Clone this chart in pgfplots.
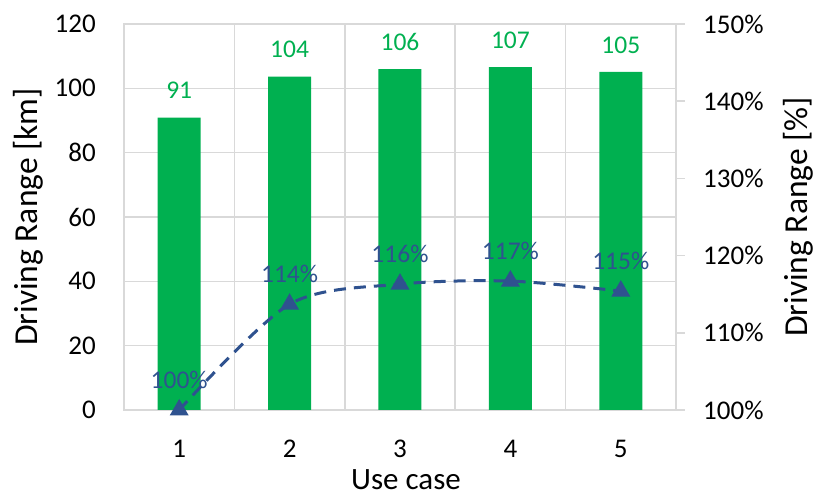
\documentclass[border=0pt]{standalone}
\usepackage{pgfplots}
\pgfplotsset{compat=1.18}
\usepackage{fontspec}
\setmainfont{Carlito}

\definecolor{bargreen}{RGB}{0,176,80}
\definecolor{lineblue}{RGB}{47,82,143}
\definecolor{gridgray}{RGB}{217,217,217}

\begin{document}
\begin{tikzpicture}
\pgfplotsset{
  common/.style={
    scale only axis, width=552pt, height=386pt,
    at={(0,0)}, anchor=south west,
    xmin=0.5, xmax=5.5,
    /pgf/number format/assume math mode=true,
    ticklabel style={font=\fontsize{27}{27}\selectfont, inner sep=0pt},
    label style={font=\fontsize{31}{31}\selectfont, inner sep=0pt},
    ylabel style={font=\fontsize{33.5}{33.5}\selectfont},
  }
}
% driving range per use case (bars, left axis)
\begin{axis}[common,
  ybar, bar width=43pt,
  ymin=0, ymax=120, ytick={0,20,...,120},
  xtick={1,...,5},
  minor xtick={0.5,1.5,...,5.5},
  ymajorgrids, xminorgrids,
  grid style={gridgray, line width=1.5pt},
  minor grid style={gridgray, line width=1.5pt},
  axis line style={gridgray, line width=1.5pt},
  major tick length=0pt, minor tick length=0pt,
  yticklabel style={anchor=east, xshift=-28pt},
  xticklabel style={anchor=north, yshift=-30pt},
  xlabel={Use case},
  xlabel style={at={(axis description cs:0.5109,-0.1550)}, anchor=north},
  ylabel={Driving Range [km]},
  ylabel style={at={(axis description cs:-0.2011,0.5)}, anchor=north},
]
\addplot[fill=bargreen, draw=none,
  nodes near coords={\pgfmathprintnumber[fixed,precision=0]{\pgfplotspointmeta}},
  nodes near coords style={font=\fontsize{25.5}{25.5}\selectfont, text=bargreen, anchor=center, yshift=27pt}]
  coordinates {(1,90.9) (2,103.6) (3,106.0) (4,106.6) (5,105.1)};
\end{axis}

% relative range (dashed line, right axis)
\begin{axis}[common,
  hide x axis, clip=false,
  axis y line*=right,
  ymin=100, ymax=150, ytick={100,110,...,150},
  yticklabel={\pgfmathprintnumber{\tick}\%},
  y axis line style={gridgray, line width=1.5pt},
  ytick style={gridgray, line width=1.5pt},
  tick align=outside, major tick length=9pt,
  yticklabel style={anchor=west, xshift=18pt},
  ylabel={Driving Range [\%]},
  ylabel style={at={(axis description cs:1.1938,0.5)}, anchor=north},
]
\addplot[lineblue, line width=3pt, dash pattern=on 12pt off 8pt, smooth,
  mark=triangle*, mark size=8pt, mark options={solid, draw=none, fill=lineblue},
  nodes near coords={\pgfmathprintnumber[fixed,precision=0]{\pgfplotspointmeta}\%},
  nodes near coords style={font=\fontsize{25.5}{25.5}\selectfont, text=lineblue, anchor=center, yshift=30pt}]
  coordinates {(1,100) (2,113.7) (3,116.3) (4,116.7) (5,115.4)};
\end{axis}

\path (-124pt,-87pt) rectangle (691pt,410pt);
\end{tikzpicture}
\end{document}
